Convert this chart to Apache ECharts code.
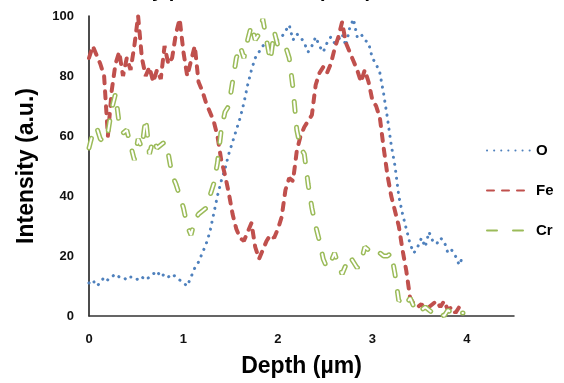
<!DOCTYPE html>
<html>
<head>
<meta charset="utf-8">
<script src="https://cdn.jsdelivr.net/npm/echarts@6/dist/echarts.min.js"></script>
<style>
html,body{margin:0;padding:0;background:#fff;}
#chart{width:564px;height:383px;}
</style>
</head>
<body>
<div id="chart"></div>
<script>
// Depth (µm)
var depth = [0,0.04,0.08,0.12,0.16,0.2,0.24,0.28,0.32,0.36,
  0.4,0.44,0.48,0.52,0.56,0.6,0.64,0.68,0.72,0.76,
  0.8,0.84,0.88,0.92,0.96,1.0,1.04,1.08,1.12,1.16,
  1.2,1.24,1.28,1.32,1.36,1.4,1.44,1.48,1.52,1.56,
  1.6,1.64,1.68,1.72,1.76,1.8,1.84,1.88,1.92,1.96,
  2.0,2.04,2.08,2.12,2.16,2.2,2.24,2.28,2.32,2.36,
  2.4,2.44,2.48,2.52,2.56,2.6,2.64,2.68,2.72,2.76,
  2.8,2.84,2.88,2.92,2.96,3.0,3.04,3.08,3.12,3.16,
  3.2,3.24,3.28,3.32,3.36,3.4,3.44,3.48,3.52,3.56,
  3.6,3.64,3.68,3.72,3.76,3.8,3.84,3.88,3.92,3.96];

// Intensity (a.u.)
var O = [11,12,10,11,13,12,13,14,13,13, 12,13,13,12,13,12,13,14,15,13,
  14,13,14,13,12,11,10,13,16,18, 21,24,28,34,40,45,49,54,58,62,
  66,71,77,82,86,88,90,91,88,91, 92,93,95,97,92,94,93,91,88,90,
  93,90,88,91,93,91,92,94,90,96, 99,93,94,92,91,86,84,81,74,66,
  57,50,40,34,29,24,21,23,26,23, 28,25,24,26,25,21,22,20,17,20];

var Fe = [86,90,87,84,80,60,75,84,88,80, 86,82,90,100,86,80,83,78,82,79,
  90,84,86,94,99,88,80,85,90,78, 75,71,68,65,60,52,47,41,34,29,
  26,25,28,31,23,19,22,25,27,26, 29,33,42,46,45,55,60,63,65,67,
  77,81,83,81,84,89,93,98,91,88, 85,82,78,82,78,72,70,66,56,47,
  40,35,30,22,15,6,4,3,4,2, 3,4,5,3,5,2,3,1,3,4];

var Cr = [56,61,63,59,58,61,69,74,64,61, 62,57,52,59,56,66,54,59,56,57,
  58,54,47,44,40,36,30,27,32,34, 35,36,40,44,51,62,68,70,78,86,
  90,86,92,97,92,94,99,92,85,95, 90,91,90,86,76,62,56,54,44,36,
  30,25,19,16,18,21,17,14,17,20, 18,16,18,23,22,21,20,21,20,20,
  21,14,5,6,4,6,3,4,2,3, 2,1,2,1,0,2,1,2,1,1];

var seriesNames = ['O','Fe','Cr'];
var xTicks = [0,1,2,3,4];
var yTicks = [0,20,40,60,80,100];

function pairs(vals){ return depth.map(function(d,i){ return [d, vals[i]]; }); }

var FONT = 'Liberation Sans';
var chart = echarts.init(document.getElementById('chart'), null, {renderer:'canvas'});
chart.setOption({
  animation: false,
  backgroundColor: '#ffffff',
  title: {
    text: 'Intensity profile of oxide (EDX)',
    left: 76, top: -24,
    textStyle: {fontFamily: FONT, fontWeight: 'bold', fontSize: 20, color: '#000'}
  },
  grid: {left: 89, right: 50, top: 16, bottom: 66, containLabel: false},
  legend: {
    orient: 'vertical',
    left: 481, top: 138,
    itemWidth: 44, itemHeight: 14, itemGap: 25,
    data: seriesNames,
    itemStyle: {opacity: 0, borderWidth: 0},
    textStyle: {fontFamily: FONT, fontWeight: 'bold', fontSize: 15, color: '#000'}
  },
  xAxis: {
    type: 'value', min: xTicks[0], max: 4.5, interval: 1,
    name: 'Depth (µm)', nameLocation: 'middle', nameGap: 39,
    nameTextStyle: {fontFamily: FONT, fontWeight: 'bold', fontSize: 23, color: '#000'},
    axisLine: {show: true, lineStyle: {color: '#333', width: 1.5}},
    axisTick: {show: false},
    splitLine: {show: false},
    axisLabel: {showMaxLabel: false, margin: 17, fontFamily: FONT, fontWeight: 'bold', fontSize: 13, color: '#111',
      formatter: function(v){ return xTicks.indexOf(v) >= 0 ? String(v) : ''; }}
  },
  yAxis: {
    type: 'value', min: yTicks[0], max: yTicks[yTicks.length-1], interval: 20,
    name: 'Intensity (a.u.)', nameLocation: 'middle', nameGap: 51, nameRotate: 90,
    nameTextStyle: {fontFamily: FONT, fontWeight: 'bold', fontSize: 23, color: '#000'},
    axisLine: {show: true, lineStyle: {color: '#111', width: 1.5}},
    axisTick: {show: false},
    splitLine: {show: false},
    axisLabel: {margin: 15, fontFamily: FONT, fontWeight: 'bold', fontSize: 13, color: '#111'}
  },
  series: [
    {name: 'O', type: 'line', data: pairs(O), symbol: 'none', showSymbol: false,
      lineStyle: {color: '#4F81BD', width: 3, type: [0.1, 7], cap: 'round'},
      itemStyle: {color: '#4F81BD'}},
    {name: 'Fe', type: 'line', data: pairs(Fe), symbol: 'none', showSymbol: false,
      lineStyle: {color: '#C0504D', width: 4, type: [7, 8], cap: 'round'},
      itemStyle: {color: '#C0504D'}},
    {name: 'Cr', type: 'line', data: pairs(Cr), symbol: 'none', showSymbol: false,
      lineStyle: {color: '#9BBB59', width: 5, type: [10, 16], cap: 'round'},
      itemStyle: {color: '#9BBB59'}},
    {name: 'Cr inner', type: 'line', data: pairs(Cr), symbol: 'none', showSymbol: false,
      lineStyle: {color: '#ffffff', width: 2, type: [10, 16], cap: 'round'},
      itemStyle: {color: '#ffffff'}, silent: true}
  ]
});
</script>
</body>
</html>
